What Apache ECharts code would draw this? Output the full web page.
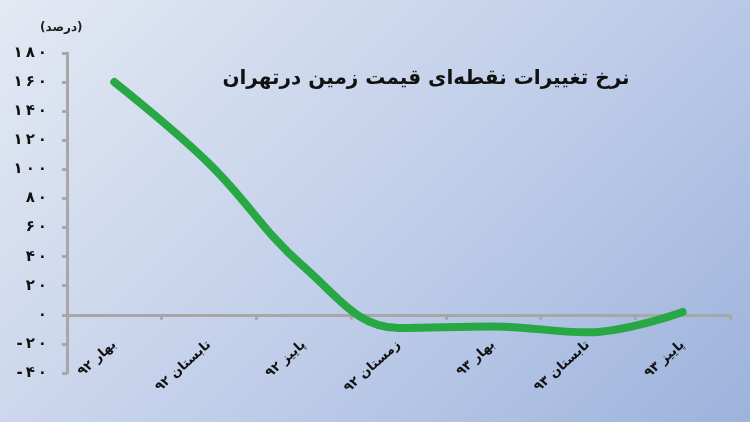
<!DOCTYPE html>
<html>
<head>
<meta charset="utf-8">
<script src="https://cdn.jsdelivr.net/npm/echarts@6/dist/echarts.min.js"></script>
<style>
    html, body { margin: 0; padding: 0; }
    #chart {
        width: 750px;
        height: 422px;
        background: linear-gradient(135deg, #e4e9f3 0%, #c3d0ea 50%, #9db3dc 100%);
    }
</style>
</head>
<body>
<div id="chart"></div>
<script>
// فصل‌ها
var categories = ['بهار ۹۲', 'تابستان ۹۲', 'پاییز ۹۲', 'زمستان ۹۲', 'بهار ۹۳', 'تابستان ۹۳', 'پاییز ۹۳'];
// درصد تغییرات نقطه‌ای
var values = [160, 104, 33, -9, -8, -12, 2];
var yTicks = [-40, -20, 0, 20, 40, 60, 80, 100, 120, 140, 160, 180];
var yTickLabels = ['-۴۰', '-۲۰', '۰', '۲۰', '۴۰', '۶۰', '۸۰', '۱۰۰', '۱۲۰', '۱۴۰', '۱۶۰', '۱۸۰'];

var myChart = echarts.init(document.getElementById('chart'));
var axisGray = '#a7a7a7';
var font = 'DejaVu Sans';

// فاصله بین ارقام مثل تصویر
function spaced(s) {
    return s.split('').join('\u2009');
}

var option = {
    backgroundColor: 'transparent',
    title: {
        text: 'نرخ تغییرات نقطه‌ای قیمت زمین درتهران',
        left: 421,
        top: 64,
        textAlign: 'center',
        textStyle: { fontFamily: font, fontSize: 20, fontWeight: 'bold', color: '#111' }
    },
    graphic: [{
        type: 'text',
        left: 40,
        top: 22,
        style: { text: '(درصد)', fontFamily: font, fontSize: 12, fontWeight: 'bold', fill: '#222' }
    }],
    grid: {
        left: 67,
        right: 20,
        top: 53,
        bottom: 49,
        containLabel: false,
        outerBoundsMode: 'none'
    },
    xAxis: {
        type: 'category',
        boundaryGap: true,
        data: categories,
        axisLine: { onZero: true, lineStyle: { color: axisGray, width: 3 } },
        axisTick: { show: true, interval: 0, length: 5, lineStyle: { color: axisGray, width: 3 } },
        axisLabel: {
            interval: 0,
            rotate: 42,
            margin: -30,
            padding: [0, 0, 0, 0],
            fontFamily: font,
            fontSize: 13,
            fontWeight: 'bold',
            color: '#111'
        },
        splitLine: { show: false }
    },
    yAxis: {
        type: 'value',
        min: -40,
        max: 180,
        interval: 20,
        axisLine: { show: true, lineStyle: { color: axisGray, width: 3 } },
        axisTick: { show: true, length: 5, lineStyle: { color: axisGray, width: 3 } },
        axisLabel: {
            margin: 20,
            fontFamily: font,
            fontSize: 15,
            fontWeight: 'bold',
            color: '#111',
            formatter: function (v) {
                var i = yTicks.indexOf(v);
                return i >= 0 ? spaced(yTickLabels[i]) : '';
            }
        },
        splitLine: { show: false }
    },
    series: [{
        type: 'line',
        data: values,
        smooth: 0.4,
        symbol: 'none',
        lineStyle: { color: '#27a845', width: 8, cap: 'round' }
    }]
};

myChart.setOption(option);
</script>
</body>
</html>
